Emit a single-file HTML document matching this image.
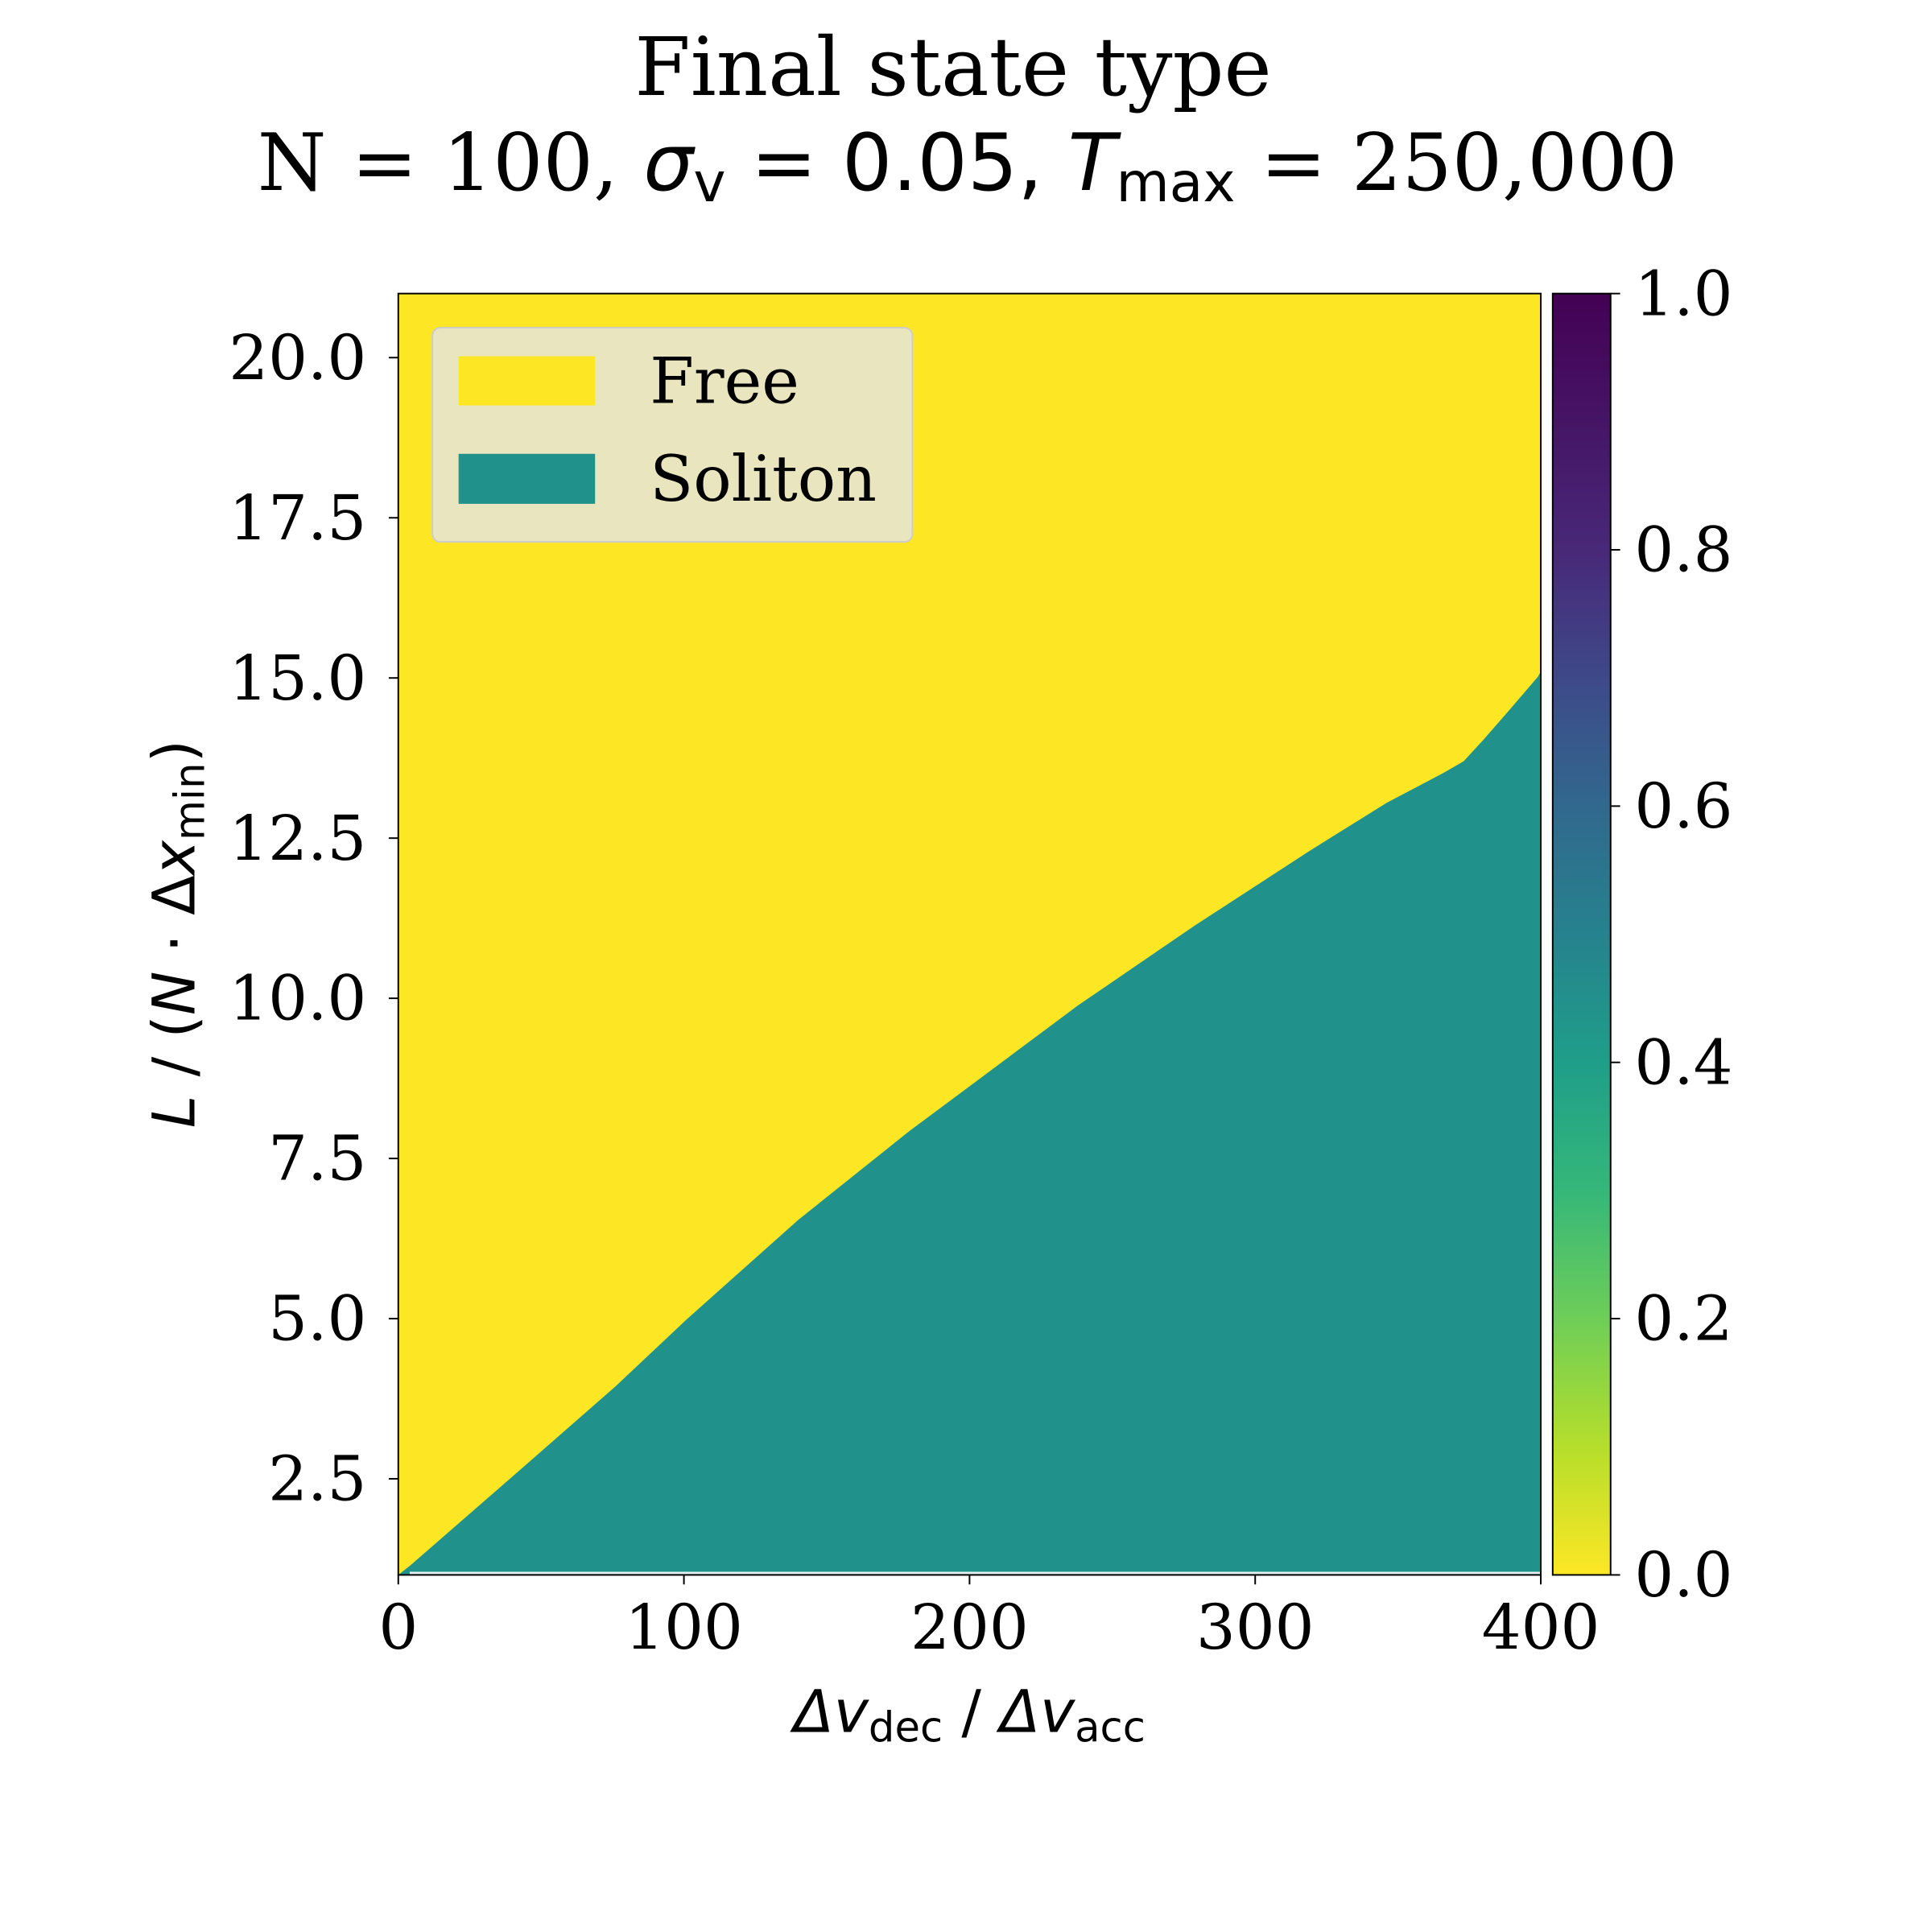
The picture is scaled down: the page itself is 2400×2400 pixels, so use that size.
<!DOCTYPE html>
<html><head><meta charset="utf-8"><style>
html,body{margin:0;padding:0;background:#fff}
svg{display:block}
text{font-family:"DejaVu Serif","Liberation Serif",serif;fill:#000}
.sans{font-family:"DejaVu Sans","Liberation Sans",sans-serif}
</style></head><body>
<svg id="chart" width="2400" height="2400" viewBox="0 0 2400 2400" xmlns="http://www.w3.org/2000/svg">
<defs>
<linearGradient id="viridis" x1="0" y1="1" x2="0" y2="0">
<stop offset="0" stop-color="#fde725"/><stop offset="0.1" stop-color="#b5de2b"/><stop offset="0.2" stop-color="#6ece58"/><stop offset="0.3" stop-color="#35b779"/><stop offset="0.4" stop-color="#1f9e89"/><stop offset="0.5" stop-color="#26828e"/><stop offset="0.6" stop-color="#31688e"/><stop offset="0.7" stop-color="#3e4989"/><stop offset="0.8" stop-color="#482878"/><stop offset="1" stop-color="#440154"/>
</linearGradient>
</defs>
<g id="title">
<text x="1184" y="118" font-size="100" text-anchor="middle">Final state type</text>
<text x="1202" y="236" font-size="98" text-anchor="middle">N = 100, <tspan class="sans" font-style="italic">σ</tspan><tspan class="sans" font-size="68" dy="14">v</tspan><tspan class="sans" dy="-14"> = 0.05, </tspan><tspan class="sans" font-style="italic">T</tspan><tspan class="sans" font-size="68" dy="14">max</tspan><tspan dy="-14"> = 250,000</tspan></text>
</g>
<g id="plot" transform="scale(0.9856)"></g>
</svg>
<script>
const xTicks=[0,100,200,300,400];
const yTicks=[2.5,5.0,7.5,10.0,12.5,15.0,17.5,20.0];
const cbTicks=[0.0,0.2,0.4,0.6,0.8,1.0];
const boundaryX=[0,4,37,76,101,140,179,198,238,279,319,346,366,373,380,389,399,400];
const boundaryL=[1.0,1.14,2.42,3.94,4.99,6.54,7.93,8.56,9.89,11.14,12.30,13.05,13.52,13.70,14.04,14.5,15.02,15.1];
const X0=502,X1=1942,Y0=1985,Y1=370;
const xs=v=>X0+(v-0)/(400-0)*(X1-X0);
const ys=v=>Y0-(v-1)/(21-1)*(Y0-Y1);
const NS="http://www.w3.org/2000/svg";
const g=document.getElementById('plot');
function mk(t,a,p){const e=document.createElementNS(NS,t);for(const k in a)e.setAttribute(k,a[k]);(p||g).appendChild(e);return e;}
let bg=mk('rect',{x:X0,y:Y1,width:X1-X0,height:Y0-Y1,fill:'#fde725'});


let pts=boundaryX.map((x,i)=>xs(x)+','+ys(boundaryL[i]));
pts.push(xs(400)+','+ys(1),xs(0)+','+ys(1));
let sol=mk('polygon',{points:pts.join(' '),fill:'#21918c'});


let wl=mk('rect',{x:xs(4),y:Y0-4,width:xs(400)-xs(4),height:3,fill:'#e4f0ee'});


let fr=mk('rect',{x:X0,y:Y1,width:X1-X0,height:Y0-Y1,fill:'none',stroke:'#000','stroke-width':2});


xTicks.forEach(v=>{const x=xs(v);mk('line',{x1:x,y1:Y0,x2:x,y2:Y0+12,stroke:'#000','stroke-width':2});
 const t=mk('text',{x:x,y:2078,'font-size':78,'text-anchor':'middle'});t.textContent=v;
 
 });
yTicks.forEach(v=>{const y=ys(v);mk('line',{x1:X0,y1:y,x2:X0-12,y2:y,stroke:'#000','stroke-width':2});
 const t=mk('text',{x:462,y:y+27,'font-size':78,'text-anchor':'end'});t.textContent=v.toFixed(1);
 
 });
const C0=1957,C1=2030;
const cb=mk('rect',{x:C0,y:Y1,width:C1-C0,height:Y0-Y1,fill:'url(#viridis)',stroke:'#000','stroke-width':2});


cbTicks.forEach(v=>{const y=Y0-v*(Y0-Y1);mk('line',{x1:C1,y1:y,x2:C1+12,y2:y,stroke:'#000','stroke-width':2});
 const t=mk('text',{x:2060,y:y+27,'font-size':78});t.textContent=v.toFixed(1);
 
 });
const xl=mk('text',{x:1222,y:2183,'font-size':74,'text-anchor':'middle',class:'sans'});
xl.innerHTML='<tspan font-style="italic">Δv</tspan><tspan font-size="52" dy="12">dec</tspan><tspan dy="-12"> / </tspan><tspan font-style="italic">Δv</tspan><tspan font-size="52" dy="12">acc</tspan>';


const yl=mk('text',{x:0,y:0,'font-size':74,'text-anchor':'middle',class:'sans',transform:'translate(245,1177) rotate(-90)'});
yl.innerHTML='<tspan font-style="italic">L</tspan> / (<tspan font-style="italic">N</tspan> · Δ<tspan font-style="italic">x</tspan><tspan font-size="52" dy="12">min</tspan><tspan dy="-12">)</tspan>';


const lg=mk('g',{});


mk('rect',{x:545,y:413,width:605,height:270,rx:10,fill:'#e9e5bf',stroke:'#cccccc','stroke-width':2},lg);
const e1=mk('g',{},lg);


mk('rect',{x:578,y:449,width:172,height:62,fill:'#fde725'},e1);
const t1=mk('text',{x:819,y:508,'font-size':80},e1);t1.textContent='Free';
const e2=mk('g',{},lg);


mk('rect',{x:578,y:572,width:172,height:63,fill:'#21918c'},e2);
const t2=mk('text',{x:819,y:631,'font-size':80},e2);t2.textContent='Soliton';
</script>
</body></html>
